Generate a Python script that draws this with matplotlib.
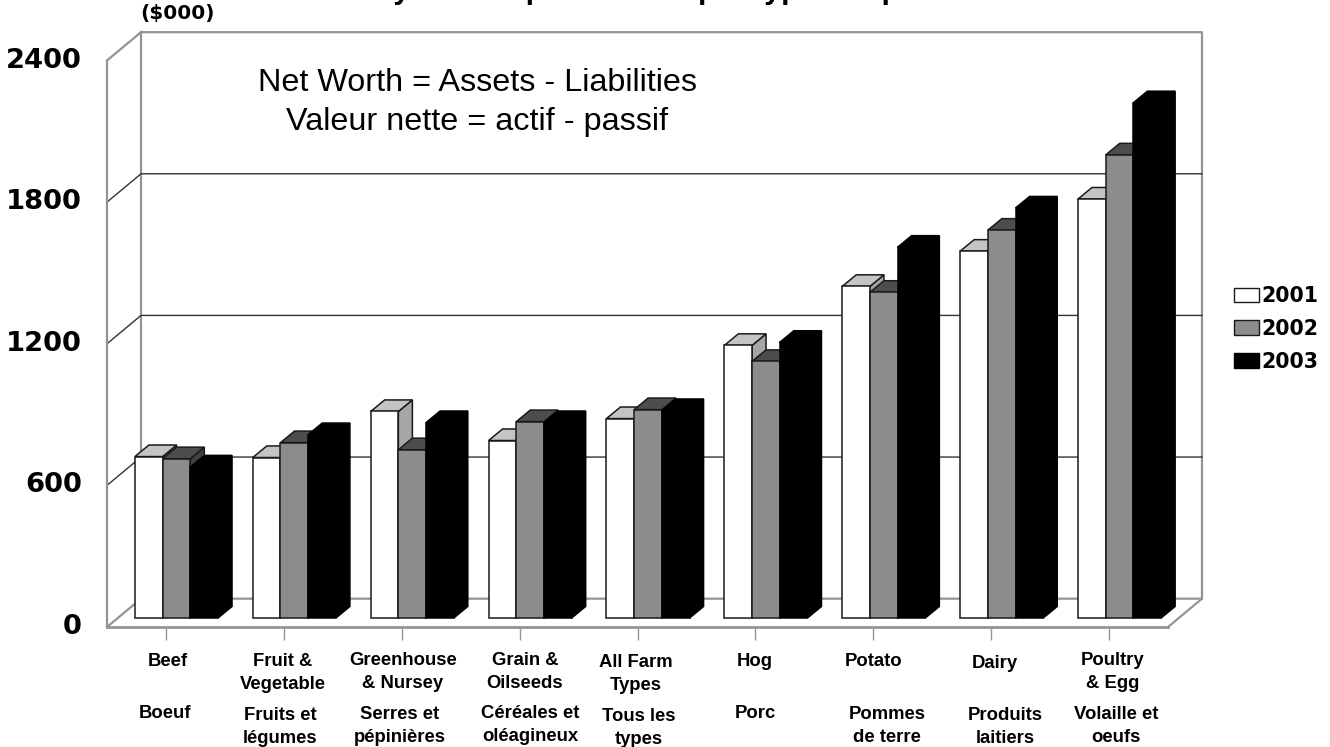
import matplotlib
matplotlib.use('Agg')
import matplotlib.pyplot as plt
from matplotlib.patches import Patch, Polygon

# values in $000
categories = ['Beef', 'Fruit &\nVegetable', 'Greenhouse\n& Nursey', 'Grain &\nOilseeds', 'All Farm\nTypes',
              'Hog', 'Potato', 'Dairy', 'Poultry\n& Egg']
categories_fr = ['Boeuf', 'Fruits et\nlégumes', 'Serres et\npépinières', 'Céréales et\noléagineux', 'Tous les\ntypes',
                 'Porc', 'Pommes\nde terre', 'Produits\nlaitiers', 'Volaille et\noeufs']
years = ['2001', '2002', '2003']
v2001 = [684, 680, 875, 752, 845, 1155, 1405, 1554, 1775]
v2002 = [675, 743, 713, 832, 883, 1087, 1380, 1643, 1962]
v2003 = [640, 777, 828, 828, 879, 1168, 1571, 1737, 2183]
yticks = [0, 600, 1200, 1800, 2400]

W, H = 1330, 747
fig = plt.figure(figsize=(W / 100, H / 100), dpi=100, facecolor='white')
ax = fig.add_axes([107 / W, (H - 627) / H, 1061 / W, 566.5 / H])
ax.set_xlim(-0.5, 8.5)
ax.set_ylim(0, 2400)
ax.set_facecolor('none')

wall = '#949494'
# depth of the back wall, in data units
wall_dx = 34 / 117.9
wall_dy = 120

# walls and floor
left, right = -0.5, 8.5
ax.plot([left, left + wall_dx, right + wall_dx, right + wall_dx, right],
        [2400, 2400 + wall_dy, 2400 + wall_dy, wall_dy, 0], color=wall, lw=1.6, clip_on=False, zorder=1)
ax.plot([left + wall_dx, left + wall_dx], [2400 + wall_dy, wall_dy], color=wall, lw=1.6, clip_on=False, zorder=1)
ax.plot([left, left + wall_dx, right + wall_dx], [0, wall_dy, wall_dy], color=wall, lw=1.6, clip_on=False, zorder=1)

# gridlines bend round the left wall
for v in yticks[1:-1]:
    ax.plot([left, left + wall_dx, right + wall_dx], [v, v + wall_dy, v + wall_dy],
            color='#333333', lw=1.0, clip_on=False, zorder=1)

# 3d bars
bar_w = 0.235
bar_shift = 0.089
bar_base = 38
depth_x = 0.119
depth_y = 49
front_cols = ['white', '#8c8c8c', 'black']
top_cols = ['#c4c4c4', '#4d4d4d', 'black']
side_cols = ['#a6a6a6', '#404040', 'black']
edge_cols = ['#1a1a1a', '#1a1a1a', 'black']

z = 2
for i in range(len(categories)):
    for s, vals in enumerate([v2001, v2002, v2003]):
        x0 = i + bar_shift + (s - 1.5) * bar_w
        x1 = x0 + bar_w
        y1 = bar_base + vals[i]
        side = Polygon([(x1, bar_base), (x1 + depth_x, bar_base + depth_y), (x1 + depth_x, y1 + depth_y), (x1, y1)],
                       facecolor=side_cols[s], edgecolor=edge_cols[s], lw=1.1, zorder=z, clip_on=False)
        top = Polygon([(x0, y1), (x0 + depth_x, y1 + depth_y), (x1 + depth_x, y1 + depth_y), (x1, y1)],
                      facecolor=top_cols[s], edgecolor=edge_cols[s], lw=1.1, zorder=z, clip_on=False)
        ax.add_patch(side)
        ax.add_patch(top)
        ax.bar(x0, vals[i], bar_w, bottom=bar_base, align='edge', color=front_cols[s], edgecolor=edge_cols[s],
               linewidth=1.1, zorder=z + 0.5)
        z += 1

# axes
for name in ['top', 'right']:
    ax.spines[name].set_visible(False)
for name in ['left', 'bottom']:
    ax.spines[name].set_color(wall)
    ax.spines[name].set_linewidth(1.6)
    ax.spines[name].set_zorder(1)
ax.spines['bottom'].set_linewidth(2.0)
ax.set_xticks(range(len(categories)))
ax.set_xticklabels([])
ax.tick_params(axis='x', length=9, width=1.0, color=wall)
ax.set_yticks(yticks)
ax.set_yticklabels([str(t) for t in yticks], fontfamily='DejaVu Sans', fontweight='bold', fontsize=19.7)
ax.tick_params(axis='y', length=0, pad=18)
for lab in ax.get_yticklabels():
    lab.set_va('center')


def px_text(x, y, s, **kw):
    return fig.text(x / W, 1 - y / H, s, **kw)


# category labels
en_xy = [(168, 662), (283, 673), (403, 672), (525, 672), (636, 674), (755, 661), (874, 661), (995, 663), (1113, 672)]
fr_xy = [(165, 714), (280, 727), (400, 726), (530, 725), (639, 728), (755, 713), (887, 726), (1005, 727), (1116, 726)]
lab_kw = dict(family='Liberation Sans', fontweight='bold', fontsize=13.3, ha='center', va='center', linespacing=1.46)
for i in range(len(categories)):
    px_text(en_xy[i][0], en_xy[i][1], categories[i], **lab_kw)
    px_text(fr_xy[i][0], fr_xy[i][1], categories_fr[i], **lab_kw)

px_text(178, 14, '($000)', family='DejaVu Sans', fontweight='bold', fontsize=14.4, ha='center', va='center')

note_kw = dict(family='Liberation Sans', fontsize=23.3, ha='left', va='baseline', color='black')
px_text(258, 91, 'Net Worth = Assets - Liabilities', **note_kw)
px_text(286, 130, 'Valeur nette = actif - passif', **note_kw)

# title runs off the top of the picture, only the descenders show
title_kw = dict(family='Liberation Sans', fontweight='bold', fontsize=22, ha='right', va='baseline')
px_text(663, -2, 'Net Worth by Farm Operations', **title_kw)
title_kw['ha'] = 'left'
px_text(698, -2, 'per type of operation', **title_kw)

# legend
handles = [Patch(facecolor=front_cols[s], edgecolor=edge_cols[s], linewidth=1.0) for s in range(3)]
fig.legend(handles, years, loc='center left', bbox_to_anchor=(1234 / W, 1 - 329 / H), frameon=False,
           prop=dict(family='DejaVu Sans', weight='bold', size=14.8),
           handlelength=1.22, handleheight=0.73, handletextpad=0.1, labelspacing=0.62,
           borderpad=0, borderaxespad=0)

fig.savefig('out.png', dpi=100, facecolor='white')
